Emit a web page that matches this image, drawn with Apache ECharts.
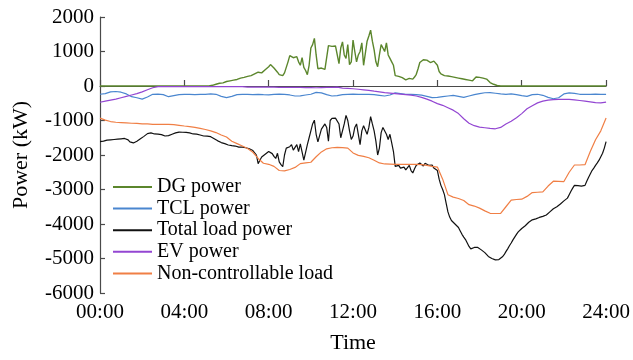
<!DOCTYPE html>
<html>
<head>
<meta charset="utf-8">
<script src="https://cdn.jsdelivr.net/npm/echarts@6/dist/echarts.min.js"></script>
<style>
  html, body { margin: 0; padding: 0; background: #fff; }
  #chart { width: 633px; height: 360px; }
</style>
</head>
<body>
<div id="chart"></div>
<script>
// Power profiles over one day, kW.
// DG and total load are sampled every 5 minutes, the others every 15 minutes.
const seriesNames = ['DG power', 'TCL power', 'Total load power', 'EV power', 'Non-controllable load'];

const dgPower = [
  0,0,0,0,0,0,0,0,0,0,0,0,
  0,0,0,0,0,0,0,0,0,0,0,0,
  0,0,0,0,0,0,0,0,0,0,0,0,
  0,0,0,0,0,0,0,0,0,0,0,0,
  0,0,0,0,0,0,0,0,0,0,0,0,
  0,0,0,0,20,30,50,60,80,95,90,110,
  130,140,150,165,170,180,190,210,230,240,250,265,
  280,290,300,330,350,370,400,390,380,430,470,520,
  560,620,600,520,470,400,330,310,300,380,420,700,
  880,900,820,780,850,700,600,820,540,450,330,600,
  1100,1200,1380,900,500,480,520,530,480,500,1170,1160,
  1150,1140,1160,1200,650,1100,1280,900,800,1200,620,700,
  1330,1000,700,900,1000,1250,600,650,1300,1450,1620,1300,
  1050,700,560,900,1200,1100,1000,1250,900,800,700,600,
  300,280,280,320,240,260,180,210,220,190,200,260,
  340,500,680,720,760,740,750,720,680,700,720,740,
  600,420,350,320,300,300,290,280,270,260,250,240,
  230,220,210,200,190,180,170,160,150,200,260,270,
  250,240,230,220,200,150,100,70,50,30,15,5,
  0,0,0,0,0,0,0,0,0,0,0,0,
  0,0,0,0,0,0,0,0,0,0,0,0,
  0,0,0,0,0,0,0,0,0,0,0,0,
  0,0,0,0,0,0,0,0,0,0,0,0,
  0,0,0,0,0,0,0,0,0,0,0,0,
  0
];

const tclPower = [
  -240,-220,-170,-160, -180,-230,-310,-340, -380,-320,-240,-235, -250,-310,-280,-250,
  -245,-240,-250,-245, -240,-230,-240,-300, -335,-300,-250,-240, -245,-250,-240,-250,
  -255,-240,-235,-245, -260,-290,-285,-260, -240,-185,-200,-250, -290,-280,-250,-240,
  -235,-240,-245,-240, -250,-270,-290,-260, -200,-220,-240,-245, -250,-265,-300,-335,
  -330,-310,-290,-270, -300,-330,-290,-250, -220,-195,-190,-210, -230,-240,-230,-250,
  -280,-300,-250,-240, -270,-330,-370,-340, -230,-200,-215,-240, -245,-240,-235,-245,
  -240
];

const totalLoad = [
  -1610,-1605,-1600,-1585,-1570,-1565,-1560,-1555,-1550,-1545,-1540,-1535,
  -1530,-1525,-1520,-1540,-1560,-1620,-1660,-1650,-1640,-1600,-1560,-1530,
  -1500,-1460,-1420,-1380,-1350,-1360,-1370,-1390,-1400,-1395,-1390,-1410,
  -1440,-1450,-1460,-1440,-1420,-1400,-1380,-1360,-1340,-1335,-1330,-1340,
  -1350,-1345,-1340,-1360,-1380,-1390,-1400,-1395,-1390,-1420,-1440,-1450,
  -1460,-1455,-1450,-1470,-1500,-1530,-1560,-1590,-1620,-1640,-1650,-1670,
  -1680,-1710,-1740,-1730,-1720,-1740,-1760,-1770,-1780,-1770,-1760,-1790,
  -1810,-1820,-1840,-1870,-1900,-2000,-2250,-2150,-2060,-2020,-1980,-1940,
  -1900,-1930,-1960,-2040,-2100,-1950,-2200,-2280,-2340,-2000,-1800,-1780,
  -1760,-1700,-1860,-1780,-1700,-1900,-1680,-1720,-2150,-2200,-1700,-1500,
  -1300,-1100,-990,-1400,-1620,-1600,-1250,-1200,-1100,-1200,-1600,-1000,
  -940,-950,-930,-920,-1100,-1500,-1520,-1100,-850,-1000,-1300,-1550,
  -1450,-1200,-1100,-1400,-1700,-1300,-1150,-1100,-1400,-1200,-890,-1100,
  -1300,-1600,-2000,-1800,-1350,-1200,-1150,-1400,-1550,-1400,-1650,-1900,
  -2330,-2350,-2300,-2380,-2400,-2350,-2430,-2380,-2300,-2450,-2520,-2400,
  -2300,-2250,-2230,-2280,-2320,-2240,-2260,-2300,-2330,-2290,-2380,-2400,
  -2450,-2700,-2880,-3000,-3150,-3400,-3650,-3800,-3900,-3950,-4000,-4050,
  -4100,-4200,-4300,-4380,-4450,-4550,-4650,-4720,-4750,-4680,-4660,-4680,
  -4700,-4750,-4800,-4830,-4870,-4940,-4990,-5000,-5010,-5040,-5050,-5030,
  -5000,-4950,-4890,-4800,-4720,-4630,-4550,-4460,-4380,-4300,-4230,-4180,
  -4130,-4090,-4050,-4000,-3950,-3910,-3880,-3860,-3850,-3830,-3810,-3795,
  -3780,-3760,-3740,-3700,-3650,-3600,-3560,-3530,-3500,-3460,-3420,-3380,
  -3330,-3290,-3250,-3150,-3050,-2960,-2880,-2885,-2890,-2895,-2900,-2890,
  -2880,-2760,-2650,-2550,-2450,-2380,-2300,-2230,-2150,-2050,-1950,-1800,
  -1610
];

const evPower = [
  -470,-440,-410,-380, -340,-300,-260,-220, -170,-110,-50,-20, -20,-20,-20,-20,
  -20,-20,-20,-20, -20,-20,-20,-20, -20,-20,-20,-20, -30,-30,-30,-35,
  -35,-35,-38,-40, -40,-40,-42,-45, -45,-50,-45,-40, -38,-35,-60,-70,
  -80,-95,-110,-125, -150,-170,-190,-205, -220,-235,-250,-265, -290,-330,-380,-440,
  -510,-560,-630,-700, -800,-950,-1080,-1150, -1190,-1210,-1230,-1240, -1200,-1100,-1020,-920,
  -800,-660,-570,-490, -440,-410,-395,-385, -385,-390,-400,-420, -440,-460,-480,-490,
  -470
];

const nonControllable = [
  -930,-990,-1030,-1050, -1060,-1070,-1080,-1085, -1095,-1100,-1110,-1110, -1110,-1115,-1120,-1140,
  -1160,-1175,-1200,-1230, -1260,-1300,-1350,-1420, -1480,-1600,-1670,-1740, -1810,-1920,-2100,-2240,
  -2270,-2330,-2450,-2460, -2420,-2360,-2250,-2230, -2210,-2050,-1910,-1820, -1790,-1780,-1785,-1800,
  -1940,-2010,-2040,-2080, -2150,-2230,-2260,-2265, -2270,-2270,-2270,-2270, -2270,-2280,-2300,-2330,
  -2350,-2700,-3150,-3220, -3260,-3320,-3440,-3480, -3540,-3620,-3690,-3695, -3690,-3500,-3310,-3290,
  -3280,-3200,-3090,-3080, -3070,-2900,-2760,-2765, -2770,-2500,-2290,-2290, -2280,-1900,-1560,-1300,
  -930
];

const timeTicks = ['00:00', '04:00', '08:00', '12:00', '16:00', '20:00', '24:00'];
const powerTicks = [-6000, -5000, -4000, -3000, -2000, -1000, 0, 1000, 2000];

// pair each sample with its hour of day
function pairs(values) {
  const step = 24 / (values.length - 1);
  return values.map((v, i) => [i * step, v]);
}

const colors = ['#5b862c', '#4a86cf', '#111111', '#9346d2', '#f07f45'];
const dataSets = [dgPower, tclPower, totalLoad, evPower, nonControllable];
const widths = [1.4, 1.2, 1.2, 1.2, 1.2];

const serif = "'Liberation Serif', 'Times New Roman', 'DejaVu Serif', serif";
const axisColor = '#4a4a4a';

const chart = echarts.init(document.getElementById('chart'), null, { renderer: 'canvas' });
chart.setOption({
  animation: false,
  backgroundColor: '#ffffff',
  textStyle: { fontFamily: serif, color: '#000' },
  grid: { left: 100, right: 26, top: 17, bottom: 67, containLabel: false },
  legend: {
    orient: 'vertical',
    left: 113,
    top: 177,
    padding: 0,
    icon: 'rect',
    itemWidth: 39,
    itemHeight: 2,
    itemGap: 1.6,
    data: seriesNames,
    textStyle: { fontFamily: serif, fontSize: 20, lineHeight: 20, color: '#000' }
  },
  xAxis: {
    type: 'value',
    min: 0,
    max: 24,
    interval: 4,
    name: 'Time',
    nameLocation: 'middle',
    nameGap: 39,
    nameTextStyle: { fontFamily: serif, fontSize: 22, color: '#000' },
    axisLine: { show: true, lineStyle: { color: axisColor, width: 1.2 } },
    axisTick: { show: true, inside: true, length: 6, lineStyle: { color: axisColor, width: 1.2 } },
    axisLabel: {
      fontFamily: serif, fontSize: 21, color: '#000', margin: 9,
      formatter: v => timeTicks[Math.round(v / 4)]
    },
    splitLine: { show: false }
  },
  yAxis: {
    type: 'value',
    min: powerTicks[0],
    max: powerTicks[powerTicks.length - 1],
    interval: 1000,
    name: 'Power (kW)',
    nameLocation: 'middle',
    nameGap: 68,
    nameTextStyle: { fontFamily: serif, fontSize: 22, color: '#000' },
    axisLine: { show: true, lineStyle: { color: axisColor, width: 1.2 } },
    axisTick: { show: true, inside: true, length: 5, lineStyle: { color: axisColor, width: 1.2 } },
    axisLabel: {
      fontFamily: serif, fontSize: 21, color: '#000', margin: 6,
      formatter: v => String(v)
    },
    splitLine: { show: false }
  },
  series: seriesNames.map((name, k) => ({
    name,
    type: 'line',
    data: pairs(dataSets[k]),
    showSymbol: false,
    symbol: 'none',
    color: colors[k],
    lineStyle: { color: colors[k], width: widths[k] },
    emphasis: { disabled: true }
  }))
});
</script>
</body>
</html>
